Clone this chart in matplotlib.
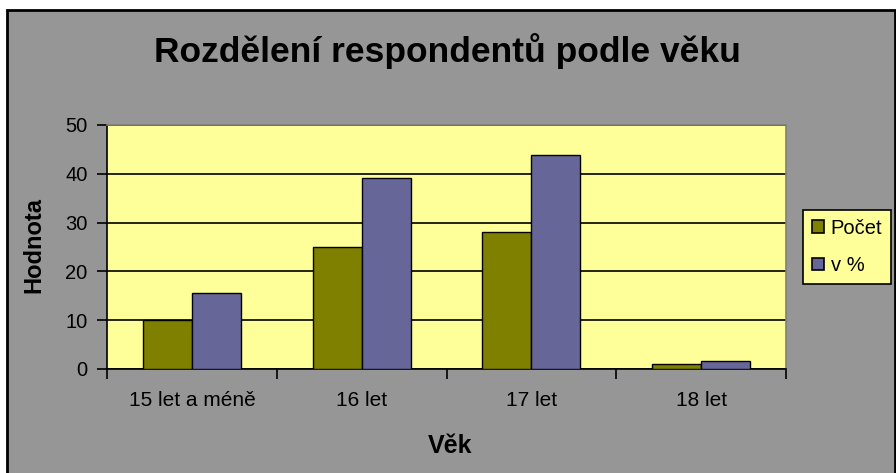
import matplotlib
matplotlib.use("Agg")
import matplotlib.pyplot as plt
from matplotlib.patches import Rectangle, Patch
import numpy as np

plt.rcParams['font.family'] = ['Liberation Sans', 'DejaVu Sans']

categories = ["15 let a méně", "16 let", "17 let", "18 let"]
pocet = [10, 25, 28, 1]
v_procentech = [15.6, 39.1, 43.8, 1.6]
series_names = ["Počet", "v %"]
y_ticks = [0, 10, 20, 30, 40, 50]

W, H = 896, 473
fig = plt.figure(figsize=(W / 100, H / 100), dpi=100, facecolor="white")

# outer chart frame
frame = Rectangle((7 / W, -0.02), (895 - 7) / W, 1 - 10 / H + 0.02,
                  transform=fig.transFigure, facecolor="#969696",
                  edgecolor="black", linewidth=2, zorder=-5)
fig.patches.append(frame)

ax = fig.add_axes([107 / W, 1 - 369 / H, (786 - 107) / W, (369 - 125) / H])
ax.set_zorder(1)
ax.set_facecolor("#FFFF99")

x = np.arange(len(categories))
bw = 0.288
ax.bar(x - bw / 2, pocet, bw, color="#808000", edgecolor="black", linewidth=1, zorder=3)
ax.bar(x + bw / 2, v_procentech, bw, color="#666699", edgecolor="black", linewidth=1, zorder=3)

ax.set_xlim(-0.5, len(categories) - 0.5)
ax.set_ylim(0, 50)
ax.set_yticks(y_ticks)
ax.set_yticklabels([str(t) for t in y_ticks], fontsize=14.5)
ax.yaxis.grid(True, color="black", linewidth=1.2, zorder=1)
ax.set_axisbelow(True)

ax.set_xticks(x)
ax.set_xticklabels(categories, fontsize=15)
ax.set_xticks(np.arange(-0.5, len(categories), 1), minor=True)
ax.tick_params(axis="x", which="major", length=0, pad=16)
ax.tick_params(axis="x", which="minor", length=7, width=1.2, direction="out")
ax.tick_params(axis="y", length=7, width=1.2, direction="out", pad=7)

for side in ["top", "right"]:
    ax.spines[side].set_color("#808080")
    ax.spines[side].set_linewidth(1.2)
for side in ["left", "bottom"]:
    ax.spines[side].set_color("black")
    ax.spines[side].set_linewidth(1.2)

fig.text(447 / W, 1 - 62 / H, "Rozdělení respondentů podle věku",
         ha="center", va="baseline", fontsize=25.5, fontweight="bold")
fig.text(450 / W, 1 - 453 / H, "Věk", ha="center", va="baseline",
         fontsize=18, fontweight="bold")
fig.text(34 / W, 1 - 245 / H, "Hodnota", ha="center", va="center",
         rotation=90, fontsize=17, fontweight="bold")

handles = [Patch(facecolor="#808000", edgecolor="black", linewidth=1.2),
           Patch(facecolor="#666699", edgecolor="black", linewidth=1.2)]
leg = fig.legend(handles, series_names, loc="center",
                 bbox_to_anchor=(847 / W, 1 - 247 / H), fontsize=14.5,
                 frameon=True, fancybox=False, shadow=False,
                 handlelength=0.6, handleheight=0.6, handletextpad=0.35,
                 labelspacing=0.9, borderpad=0.42)
leg.set_zorder(5)
leg.get_frame().set_facecolor("#FFFF99")
leg.get_frame().set_edgecolor("black")
leg.get_frame().set_linewidth(1.2)
leg.get_frame().set_alpha(None)

fig.savefig("out.png", dpi=100, facecolor=fig.get_facecolor())
